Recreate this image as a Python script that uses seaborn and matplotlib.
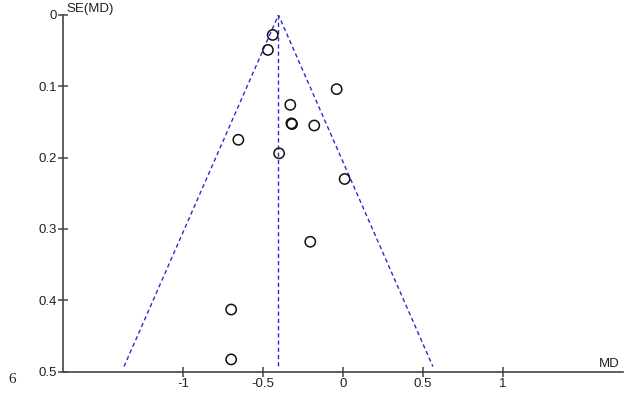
import matplotlib
matplotlib.use("Agg")
import matplotlib.pyplot as plt
import seaborn as sns
import pandas as pd

# Study estimates
md = [-0.44, -0.47, -0.04, -0.33, -0.323, -0.319, -0.18, -0.655, -0.40, 0.01, -0.205, -0.70, -0.70]
se = [0.028, 0.049, 0.104, 0.126, 0.152, 0.153, 0.155, 0.175, 0.194, 0.230, 0.318, 0.413, 0.483]

pooled_md = -0.404
se_max = 0.493

x_ticks = [-1, -0.5, 0, 0.5, 1]
x_tick_labels = ["-1", "-0.5", "0", "0.5", "1"]
y_ticks = [0, 0.1, 0.2, 0.3, 0.4, 0.5]
y_tick_labels = ["0", "0.1", "0.2", "0.3", "0.4", "0.5"]

df = pd.DataFrame({"MD": md, "SE": se})

sns.set_style("white")
plt.rcParams["font.family"] = ["Liberation Sans", "DejaVu Sans"]

fig = plt.figure(figsize=(6.3, 3.94), dpi=100)
ax = fig.add_axes([0.1005, 0.057, 0.888, 0.905])

# funnel (95% pseudo confidence limits) and pooled line
blue = "#2a2ad0"
ax.plot([pooled_md - 1.96 * se_max, pooled_md, pooled_md + 1.96 * se_max], [se_max, 0, se_max],
        color=blue, lw=1, linestyle=(0, (3, 2.2)))
ax.plot([pooled_md, pooled_md], [0, se_max], color=blue, lw=1, linestyle=(0, (3, 2.2)))

sns.scatterplot(data=df, x="MD", y="SE", ax=ax, s=55, facecolor="none",
                edgecolor="#111111", linewidth=1.1, zorder=3)

ax.set_xlim(-1.75, 1.75)
ax.set_ylim(0.5, 0)
ax.set_xticks(x_ticks)
ax.set_xticklabels(x_tick_labels)
ax.set_yticks(y_ticks)
ax.set_yticklabels(y_tick_labels)
ax.set_xlabel("")
ax.set_ylabel("")

for side in ["top", "right"]:
    ax.spines[side].set_visible(False)
for side in ["left", "bottom"]:
    ax.spines[side].set_color("#444444")
    ax.spines[side].set_linewidth(1.2)
ax.tick_params(axis="both", direction="inout", length=7, width=1.1, color="#444444",
               labelsize=9.5, labelcolor="#222222", left=True, bottom=True)
ax.tick_params(axis="x", pad=1)
ax.tick_params(axis="y", pad=1)

ax.text(0.006, 1.0, "SE(MD)", transform=ax.transAxes, fontsize=9.5, color="#222222",
        ha="left", va="bottom")
ax.text(0.995, 0.005, "MD", transform=ax.transAxes, fontsize=9.5, color="#222222",
        ha="right", va="bottom")
fig.text(0.013, 0.027, "6", fontsize=11, family="Liberation Serif", color="#222222")

fig.savefig("out.png", dpi=100)
